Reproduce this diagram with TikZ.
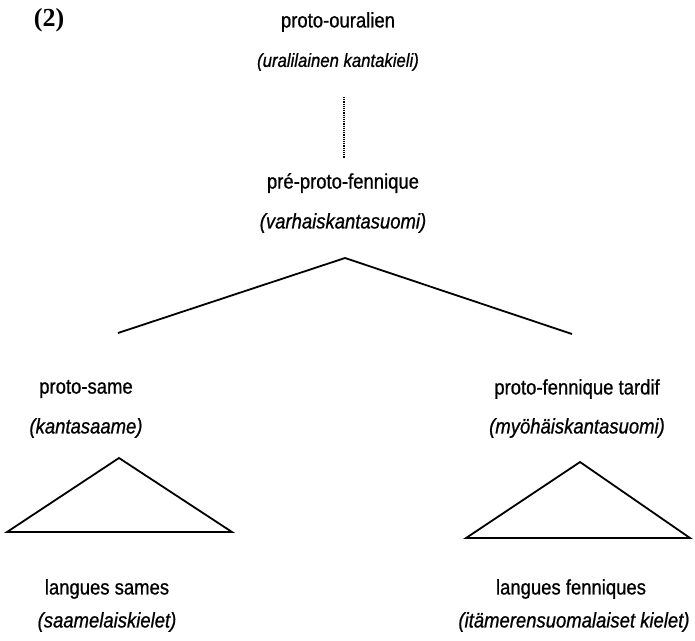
\documentclass[tikz,border=0pt]{standalone}
\usepackage{fontspec}
\setmainfont[FakeStretch=0.88,FakeBold=0.8]{Liberation Sans}
\newfontfamily\numfont{Liberation Serif}
\begin{document}
\begin{tikzpicture}[x=1pt,y=-1pt,
  lbl/.style={inner sep=0pt, font=\fontsize{21}{24}\selectfont},
  gloss/.style={lbl, font=\fontsize{21}{24}\selectfont\itshape},
  branch/.style={line width=1.8pt, line join=miter},
  link/.style={line width=2pt, dash pattern=on 1.1pt off 1.1pt}]
  \useasboundingbox (0,0) rectangle (695,640);

  % example number
  \node[inner sep=0pt, font=\fontsize{26}{29}\selectfont\numfont\bfseries] (num) at (49,20) {(2)};

  % top level
  \node[lbl]   (pu)  at (338,22) {proto-ouralien};
  \node[gloss, font=\fontsize{19}{22}\selectfont\itshape] (puf) at (338,62) {(\textit{uralilainen kantakieli})};
  \coordinate (dtop) at (344,97);
  \coordinate (dbot) at (344,158);
  \draw[link] (dtop) -- (dbot);

  % pre-proto-fennique
  \node[lbl]   (ppf)  at (343,183) {pré-proto-fennique};
  \node[gloss] (ppff) at (343,223) {(\textit{varhaiskantasuomi})};

  % binary split
  \coordinate (split) at (345,258);
  \coordinate (lend)  at (118,333);
  \coordinate (rend)  at (572,334);
  \draw[branch] (lend) -- (split) -- (rend);

  % left branch
  \node[lbl]   (ps)  at (86,389) {proto-same};
  \node[gloss] (psf) at (86,428) {(\textit{kantasaame})};
  \coordinate (lt) at (119,458);
  \coordinate (ll) at (7,532);
  \coordinate (lr) at (232,532);
  \draw[branch] (ll) -- (lt) -- (lr) -- cycle;
  \node[lbl]   (ls)  at (107,589) {langues sames};
  \node[gloss] (lsf) at (107,622) {(\textit{saamelaiskielet})};

  % right branch
  \node[lbl]   (pft)  at (577,389) {proto-fennique tardif};
  \node[gloss] (pftf) at (577,428) {(\textit{myöhäiskantasuomi})};
  \coordinate (rt) at (580,462);
  \coordinate (rl) at (466,538);
  \coordinate (rr) at (690,538);
  \draw[branch] (rl) -- (rt) -- (rr) -- cycle;
  \node[lbl]   (lf)  at (571,589) {langues fenniques};
  \node[gloss] (lff) at (574,622) {(\textit{itämerensuomalaiset kielet})};
\end{tikzpicture}
\end{document}
